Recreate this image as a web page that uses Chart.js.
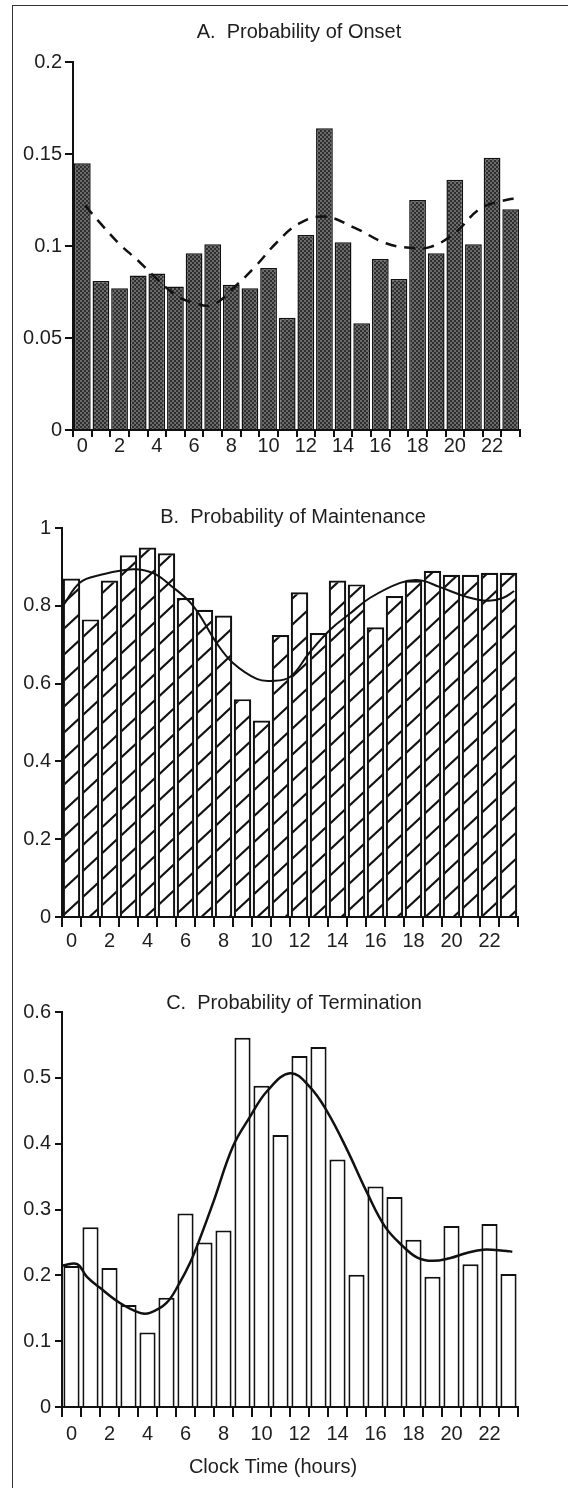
<!DOCTYPE html>
<html><head><meta charset="utf-8">
<script src="https://cdn.jsdelivr.net/npm/chart.js@4.4.0/dist/chart.umd.min.js"></script>
<style>
html,body{margin:0;padding:0;background:#fff;}
#wrap{position:relative;width:568px;height:1488px;overflow:hidden;background:#fff;}
#frame{position:absolute;left:12px;top:5px;width:600px;height:1500px;border-left:1.5px solid #333;border-top:1.5px solid #333;}
canvas{position:absolute;left:0;}
</style></head><body>
<div id="wrap">
<div id="frame"></div>
<canvas id="cA" width="568" height="480" style="top:0px"></canvas>
<canvas id="cB" width="568" height="480" style="top:480px"></canvas>
<canvas id="cC" width="568" height="528" style="top:960px"></canvas>
</div>
<script>
// ---- data ----
const hours = ['0','1','2','3','4','5','6','7','8','9','10','11','12','13','14','15','16','17','18','19','20','21','22','23'];
const xTickLabels = ['0','','2','','4','','6','','8','','10','','12','','14','','16','','18','','20','','22',''];

const onsetValues = [0.145,0.081,0.077,0.084,0.085,0.078,0.096,0.101,0.079,0.077,0.088,0.061,0.106,0.164,0.102,0.058,0.093,0.082,0.125,0.096,0.136,0.101,0.148,0.120];
const onsetCurveX = [0.15,1,2,3,3.7,5,6,7,8.2,9.3,10.4,11.6,13,14.6,16.3,17.6,18.7,20,21.4,23,23.4];
const onsetCurveY = [0.122,0.112,0.101,0.092,0.085,0.0735,0.069,0.068,0.078,0.089,0.1015,0.112,0.116,0.110,0.1015,0.099,0.0995,0.107,0.1205,0.1255,0.1255];
const onsetTicks = [0,0.05,0.1,0.15,0.2];

const maintValues = [0.87,0.765,0.865,0.93,0.95,0.935,0.82,0.79,0.775,0.56,0.505,0.725,0.835,0.73,0.865,0.855,0.745,0.825,0.865,0.89,0.88,0.88,0.885,0.885];
const maintCurveX = [-0.45,0.45,1.5,3.24,4.3,5.2,6.4,7.64,8.5,9.75,10.5,11.5,12.5,13.6,14.66,15.7,17.3,18.3,19.4,20.8,21.9,22.7,23.3];
const maintCurveY = [0.80,0.86,0.879,0.894,0.884,0.853,0.80,0.704,0.653,0.612,0.607,0.617,0.678,0.738,0.78,0.82,0.859,0.866,0.848,0.823,0.813,0.82,0.838];
const maintTicks = [0,0.2,0.4,0.6,0.8,1];

const termValues = [0.214,0.273,0.211,0.155,0.113,0.166,0.294,0.250,0.268,0.561,0.488,0.413,0.533,0.547,0.376,0.201,0.335,0.319,0.254,0.198,0.275,0.217,0.278,0.202];
const termCurveX = [-0.45,0.3,0.8,1.5,2.55,3.6,4.13,5.0,5.7,6.24,6.76,7.45,8.5,9.4,10.3,11.5,12.55,13.45,14.5,15.55,16.5,17.45,18.2,19.0,19.9,20.8,21.66,22.9,23.2];
const termCurveY = [0.215,0.217,0.198,0.181,0.158,0.143,0.143,0.158,0.189,0.219,0.256,0.31,0.396,0.441,0.48,0.507,0.486,0.449,0.391,0.326,0.274,0.244,0.227,0.222,0.226,0.234,0.239,0.237,0.236];
const termTicks = [0,0.1,0.2,0.3,0.4,0.5,0.6];

// ---- setup ----
Chart.defaults.font.family = "'Liberation Sans', Arial, Helvetica, sans-serif";
Chart.defaults.font.size = 20;
Chart.defaults.color = '#1e1e1e';
Chart.defaults.animation = false;

const textPlugin = {
  id: 'extraText',
  afterDraw(chart, args, opts) {
    const ctx = chart.ctx;
    (opts.items || []).forEach(it => {
      ctx.save();
      ctx.font = "20px 'Liberation Sans', Arial, sans-serif";
      ctx.fillStyle = '#1e1e1e';
      ctx.textAlign = 'center';
      ctx.textBaseline = 'middle';
      ctx.fillText(it.text, it.x, it.y);
      ctx.restore();
    });
  }
};

function stipple(ctx) {
  const c = document.createElement('canvas'); c.width = 4; c.height = 4;
  const g = c.getContext('2d');
  g.fillStyle = '#2e2e2e'; g.fillRect(0,0,4,4);
  g.fillStyle = '#6a6a6a'; g.fillRect(0,0,2,2); g.fillRect(2,2,2,2);
  return ctx.createPattern(c, 'repeat');
}
function hatch(ctx) {
  const c = document.createElement('canvas'); c.width = 28; c.height = 26;
  const g = c.getContext('2d');
  g.fillStyle = '#fff'; g.fillRect(0,0,28,26);
  g.strokeStyle = '#111'; g.lineWidth = 2.1;
  [-26,0,26].forEach(k => { g.beginPath(); g.moveTo(-28,52+k); g.lineTo(56,-26+k); g.stroke(); });
  return ctx.createPattern(c, 'repeat');
}
const pts = (xs, ys) => xs.map((x,i) => ({x:x, y:ys[i]}));

function build(id, o) {
  const ctx = document.getElementById(id).getContext('2d');
  return new Chart(ctx, {
    type: 'bar',
    data: {
      labels: hours,
      datasets: [
        { type:'line', data: pts(o.cx, o.cy), xAxisID:'x2', yAxisID:'y', order:0,
          borderColor:'#111', borderWidth:o.lw, borderDash:o.dash || [], pointRadius:0, tension:0.4, fill:false },
        { type:'bar', data:o.values, xAxisID:'x', yAxisID:'y', order:1, grouped:false,
          backgroundColor:o.fill(ctx), borderColor:'#111', borderWidth:o.bw,
          categoryPercentage:1, barPercentage:o.bp }
      ]
    },
    options: {
      responsive:false, animation:false,
      layout:{padding:o.pad},
      plugins:{legend:{display:false}, tooltip:{enabled:false}, title:{display:false},
               extraText:{items:o.texts}},
      scales:{
        x:{type:'category', offset:true,
           grid:{offset:true, drawOnChartArea:false, drawTicks:true, tickLength:o.xtl, color:'#111', lineWidth:2},
           border:{display:true, color:'#111', width:2},
           ticks:{autoSkip:false, maxRotation:0, minRotation:0, padding:o.xpad, color:'#1e1e1e',
                  callback:(v,i)=>xTickLabels[i]},
           afterFit:(s)=>{ s.height = o.xh; }},
        x2:{type:'linear', display:false, offset:false, grid:{offset:false}, min:-0.5, max:23.5},
        y:{type:'linear', min:0, max:o.ymax,
           afterBuildTicks:(s)=>{ s.ticks = o.yticks.map(v=>({value:v})); },
           ticks:{padding:o.ypad, color:'#1e1e1e', callback:(v)=>String(v)},
           grid:{drawOnChartArea:false, drawTicks:true, tickLength:o.ytl, color:'#111', lineWidth:2},
           border:{display:true, color:'#111', width:2},
           afterFit:(s)=>{ s.width = o.yw; }}
      }
    },
    plugins:[textPlugin]
  });
}

build('cA', {values:onsetValues, cx:onsetCurveX, cy:onsetCurveY, lw:2.5, dash:[11,8],
  fill:stipple, bw:1.5, bp:0.9, ymax:0.2, yticks:onsetTicks,
  pad:{left:0,right:48,top:62,bottom:10}, xh:40, xtl:7, xpad:-3, ytl:8, ypad:3, yw:73,
  texts:[{text:'A.  Probability of Onset', x:299, y:32}]});

build('cB', {values:maintValues, cx:maintCurveX, cy:maintCurveY, lw:2,
  fill:hatch, bw:2.2, bp:0.92, ymax:1, yticks:maintTicks,
  pad:{left:0,right:50,top:48,bottom:3}, xh:40, xtl:10, xpad:2, ytl:7, ypad:4, yw:62,
  texts:[{text:'B.  Probability of Maintenance', x:293, y:37}]});

build('cC', {values:termValues, cx:termCurveX, cy:termCurveY, lw:2.5,
  fill:()=> '#ffffff', bw:2, bp:0.85, ymax:0.6, yticks:termTicks,
  pad:{left:0,right:50,top:52,bottom:9}, xh:72, xtl:10, xpad:5, ytl:7, ypad:4, yw:62,
  texts:[{text:'C.  Probability of Termination', x:294, y:43},
         {text:'Clock Time (hours)', x:273, y:507}]});
</script>
</body></html>
